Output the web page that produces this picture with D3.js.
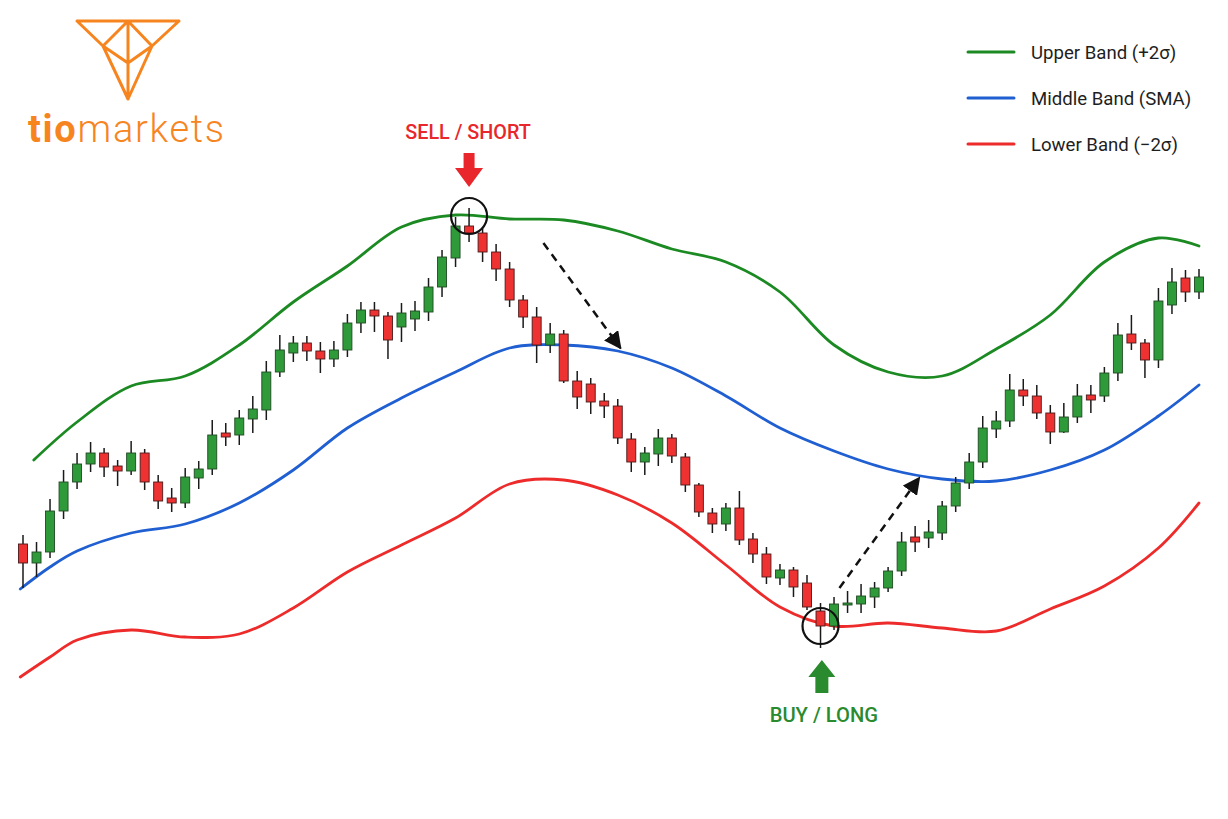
<!DOCTYPE html>
<html>
<head>
  <meta charset="utf-8">
  <title>Bollinger Bands</title>
  <script src="https://cdn.jsdelivr.net/npm/d3@7"></script>
  <style>
    html, body { margin: 0; padding: 0; background: #fff; }
    text { font-family: Roboto, "Liberation Sans", sans-serif; }
  </style>
</head>
<body>
  <svg width="1228" height="819" id="mainsvg"></svg>

  <script>
    // candle prices, one entry per bar (index 0..87)
    const opens = [131.2, 127.4, 129.6, 137.8, 143.6, 147.2, 149.4, 146.8, 145.8, 149.4,
      143.6, 140.4, 139.4, 144.4, 146.2, 153.4, 153.0, 156.2, 158.0, 165.6,
      169.4, 171.4, 169.8, 168.2, 170.0, 175.4, 178.0, 176.8, 174.6, 176.2,
      177.6, 182.6, 188.4, 194.8, 193.4, 189.6, 186.2, 180.0, 176.6, 171.0,
      173.2, 163.8, 163.2, 159.8, 158.8, 152.2, 147.6, 149.2, 152.4, 148.6,
      143.0, 137.4, 135.2, 138.4, 132.2, 129.2, 124.4, 126.0, 123.4, 117.8,
      114.8, 119.0, 119.2, 120.6, 122.4, 125.8, 132.6, 132.4, 133.4, 138.8,
      143.4, 147.6, 154.2, 155.8, 162.0, 160.8, 157.4, 153.6, 156.6, 161.0,
      160.8, 165.4, 173.2, 171.4, 168.0, 179.0, 184.4, 181.6];
    const highs = [133.0, 131.6, 140.2, 146.0, 149.4, 151.6, 150.4, 148.0, 151.8, 150.2,
      145.0, 142.4, 146.4, 147.8, 156.0, 155.4, 158.0, 160.8, 167.8, 173.0,
      172.8, 172.8, 171.6, 171.8, 177.2, 179.6, 179.6, 177.6, 179.4, 179.8,
      184.4, 190.0, 196.6, 198.4, 194.6, 191.2, 187.6, 181.0, 178.6, 175.4,
      174.0, 165.8, 164.4, 161.4, 160.2, 153.4, 150.6, 154.2, 153.2, 149.4,
      143.4, 138.4, 139.4, 141.8, 133.4, 130.6, 127.2, 126.6, 125.0, 119.4,
      120.6, 121.8, 123.2, 123.6, 126.6, 133.6, 134.8, 136.0, 139.8, 144.6,
      149.4, 156.8, 157.8, 165.2, 164.2, 163.0, 159.0, 159.4, 163.2, 163.0,
      166.6, 175.4, 177.0, 172.2, 182.4, 186.4, 186.0, 186.2];
    const lows = [122.4, 124.6, 128.4, 136.2, 142.2, 145.6, 144.6, 142.8, 145.0, 142.0,
      138.2, 137.6, 138.4, 142.2, 145.0, 150.8, 151.0, 153.4, 156.0, 164.6,
      167.6, 167.8, 165.4, 166.6, 168.6, 173.4, 173.6, 168.2, 171.6, 173.8,
      175.8, 180.6, 186.6, 191.6, 187.6, 183.8, 178.6, 174.4, 167.4, 169.4,
      163.4, 158.2, 157.2, 156.4, 151.2, 145.6, 145.0, 146.8, 147.4, 141.6,
      136.6, 133.4, 133.8, 131.0, 127.4, 123.2, 123.0, 120.6, 118.0, 110.4,
      114.0, 117.4, 117.4, 118.4, 121.6, 124.8, 129.6, 130.4, 132.0, 137.6,
      142.2, 146.4, 152.4, 154.6, 158.8, 156.2, 151.2, 153.4, 155.4, 157.4,
      159.6, 163.8, 170.0, 164.4, 166.4, 177.2, 179.6, 180.2];
    const closes = [127.4, 129.6, 137.8, 143.6, 147.2, 149.4, 146.6, 145.8, 149.4, 143.6,
      139.8, 139.4, 144.6, 146.2, 153.0, 152.6, 156.4, 158.2, 165.6, 170.0,
      171.4, 169.8, 168.2, 170.0, 175.4, 178.0, 176.8, 172.0, 177.4, 177.8,
      182.6, 188.6, 194.8, 193.4, 189.6, 186.2, 180.0, 176.6, 171.0, 173.2,
      163.8, 160.6, 159.6, 158.8, 152.4, 147.6, 149.4, 152.4, 148.8, 143.0,
      137.6, 135.2, 138.4, 132.0, 129.2, 124.6, 126.0, 122.6, 118.6, 114.8,
      119.2, 119.4, 120.8, 122.4, 125.8, 131.6, 131.6, 133.6, 138.8, 143.4,
      147.6, 154.4, 155.8, 162.0, 160.8, 157.4, 153.6, 156.6, 160.8, 160.0,
      165.4, 173.0, 171.4, 168.0, 179.8, 183.6, 181.6, 184.6];

    // band values, sampled at these bar indices
    const upperIdx = [0.8, 4, 8, 12, 16, 20, 24, 28, 32, 36, 40, 44, 48, 52, 56, 60, 64, 68, 72, 76, 80, 84, 87];
    const upperBand = [148.0, 155.6, 162.8, 164.8, 171.0, 179.6, 186.8, 194.6, 197.0, 196.2, 196.0, 193.8,
      190.2, 187.6, 181.6, 171.0, 165.6, 164.8, 170.2, 177.0, 187.6, 192.4, 190.8];
    const bandIdx = [-0.2, 2, 4, 8, 12, 16, 20, 24, 28, 32, 36, 40, 44, 48, 52, 56, 60, 64, 68, 72, 76, 80, 84, 87];
    const middleBand = [122.2, 126.6, 129.8, 133.4, 135.2, 139.4, 146.0, 154.4, 160.4, 165.6, 170.4, 171.0, 169.8,
      166.4, 160.8, 154.4, 149.8, 146.2, 144.2, 143.8, 146.0, 150.0, 156.8, 163.0];
    const lowerBand = [104.6, 108.6, 112.0, 114.0, 112.6, 113.2, 118.4, 125.6, 131.0, 136.4, 143.2, 144.0, 141.0,
      135.4, 127.0, 118.6, 114.8, 115.4, 114.4, 113.8, 118.2, 122.8, 130.4, 139.4];

    const legendLabels = ['Upper Band (+2σ)', 'Middle Band (SMA)', 'Lower Band (−2σ)'];

    const svg = d3.select('#mainsvg');
    const xScale = d3.scaleLinear().domain([0, 87]).range([23, 1199]);
    const yScale = d3.scaleLinear().domain([100, 200]).range([700, 200]);

    const GREEN = '#1c8a22', BLUE = '#1f5fd2', RED = '#ee2b2b';

    // arrow marker for dashed arrows
    svg.append('defs').append('marker')
      .attr('id', 'head').attr('viewBox', '0 0 10 10')
      .attr('refX', 9).attr('refY', 5)
      .attr('markerWidth', 7).attr('markerHeight', 7)
      .attr('markerUnits', 'strokeWidth')
      .attr('orient', 'auto')
      .append('path').attr('d', 'M0,0 L10,5 L0,10 Z').attr('fill', '#111');

    // bands
    const bands = [
      { idx: upperIdx, vals: upperBand, color: GREEN },
      { idx: bandIdx, vals: middleBand, color: BLUE },
      { idx: bandIdx, vals: lowerBand, color: RED }
    ];
    const line = d3.line().curve(d3.curveCatmullRom.alpha(0.5))
      .x(d => xScale(d[0])).y(d => yScale(d[1]));
    bands.forEach(b => {
      svg.append('path')
        .attr('d', line(b.idx.map((i, k) => [i, b.vals[k]])))
        .attr('fill', 'none').attr('stroke', b.color)
        .attr('stroke-width', 2.8).attr('stroke-linecap', 'round');
    });

    // candles
    const candles = opens.map((o, i) => ({ i, o, h: highs[i], l: lows[i], c: closes[i] }));
    const bodyW = 9;
    const cg = svg.append('g');
    cg.selectAll('line').data(candles).join('line')
      .attr('x1', d => xScale(d.i)).attr('x2', d => xScale(d.i))
      .attr('y1', d => yScale(d.h)).attr('y2', d => yScale(d.l))
      .attr('stroke', '#1a1a1a').attr('stroke-width', 1.5);
    cg.selectAll('rect').data(candles).join('rect')
      .attr('x', d => xScale(d.i) - bodyW / 2)
      .attr('y', d => yScale(Math.max(d.o, d.c)))
      .attr('width', bodyW)
      .attr('height', d => Math.max(2, Math.abs(yScale(d.o) - yScale(d.c))))
      .attr('fill', d => d.c >= d.o ? '#2f9a3a' : '#ee3131')
      .attr('stroke', d => d.c >= d.o ? '#1f4a22' : '#4a1a1a')
      .attr('stroke-width', 0.9);

    // circles on the band touches
    [[33, 196.8], [59, 114.8]].forEach(p => {
      svg.append('circle')
        .attr('cx', xScale(p[0])).attr('cy', yScale(p[1])).attr('r', 18)
        .attr('fill', 'none').attr('stroke', '#111').attr('stroke-width', 2.2);
    });

    // dashed arrows
    [[[38.5, 191.4], [44.2, 170.4]], [[60.4, 122.4], [66.3, 144.4]]].forEach(a => {
      svg.append('line')
        .attr('x1', xScale(a[0][0])).attr('y1', yScale(a[0][1]))
        .attr('x2', xScale(a[1][0])).attr('y2', yScale(a[1][1]))
        .attr('stroke', '#111').attr('stroke-width', 2.5)
        .attr('stroke-dasharray', '8,6')
        .attr('marker-end', 'url(#head)');
    });

    // sell signal
    const sx = xScale(33);
    svg.append('text').text('SELL / SHORT')
      .attr('x', sx - 1).attr('y', 139).attr('text-anchor', 'middle')
      .attr('font-size', 19.8).attr('font-weight', 500).attr('fill', '#e8262b');
    svg.append('path')
      .attr('d', `M${sx - 5.5},153 h11 v15 h8.5 l-14,19 l-14,-19 h8.5 z`)
      .attr('fill', '#e8262b');

    // buy signal
    const bx = xScale(59.1);
    svg.append('text').text('BUY / LONG')
      .attr('x', bx + 2).attr('y', 722).attr('text-anchor', 'middle')
      .attr('font-size', 20.2).attr('font-weight', 500).attr('fill', '#2a8a2e');
    svg.append('path')
      .attr('d', `M${bx - 6.5},693 v-16 h-7 l13.5,-17 l13.5,17 h-7 v16 z`)
      .attr('fill', '#2a8a2e');

    // legend
    const lg = svg.append('g').attr('transform', 'translate(968, 52)');
    legendLabels.forEach((t, k) => {
      lg.append('line').attr('x1', 0).attr('x2', 46)
        .attr('y1', k * 46).attr('y2', k * 46)
        .attr('stroke', bands[k].color).attr('stroke-width', 3).attr('stroke-linecap', 'round');
      lg.append('text').text(t).attr('x', 63).attr('y', k * 46 + 6.5)
        .attr('font-size', 18.6).attr('fill', '#1e1e1e');
    });

    // logo
    const ORANGE = '#f7851f';
    const logo = svg.append('g')
      .attr('fill', 'none').attr('stroke', ORANGE).attr('stroke-width', 3)
      .attr('stroke-linejoin', 'round').attr('stroke-linecap', 'round');
    const A = [77, 21], B = [179, 21], C = [128, 21], D = [103, 46], E = [152, 46], F = [128, 63], G = [128, 99];
    const seg = (p, q) => `M${p[0]},${p[1]} L${q[0]},${q[1]}`;
    logo.append('path').attr('d', seg(A, B) + seg(A, D) + seg(B, E) + seg(D, G) + seg(E, G) +
      seg(C, D) + seg(C, E) + seg(C, G) + seg(D, F) + seg(E, F));
    const lt = svg.append('text').attr('x', 28).attr('y', 142)
      .attr('font-family', 'Lato, sans-serif').attr('font-size', 38).attr('fill', ORANGE)
      .attr('textLength', 196).attr('lengthAdjust', 'spacing');
    lt.append('tspan').text('tio').attr('font-weight', 700);
    lt.append('tspan').text('markets').attr('font-weight', 300);
  </script>
</body>
</html>
